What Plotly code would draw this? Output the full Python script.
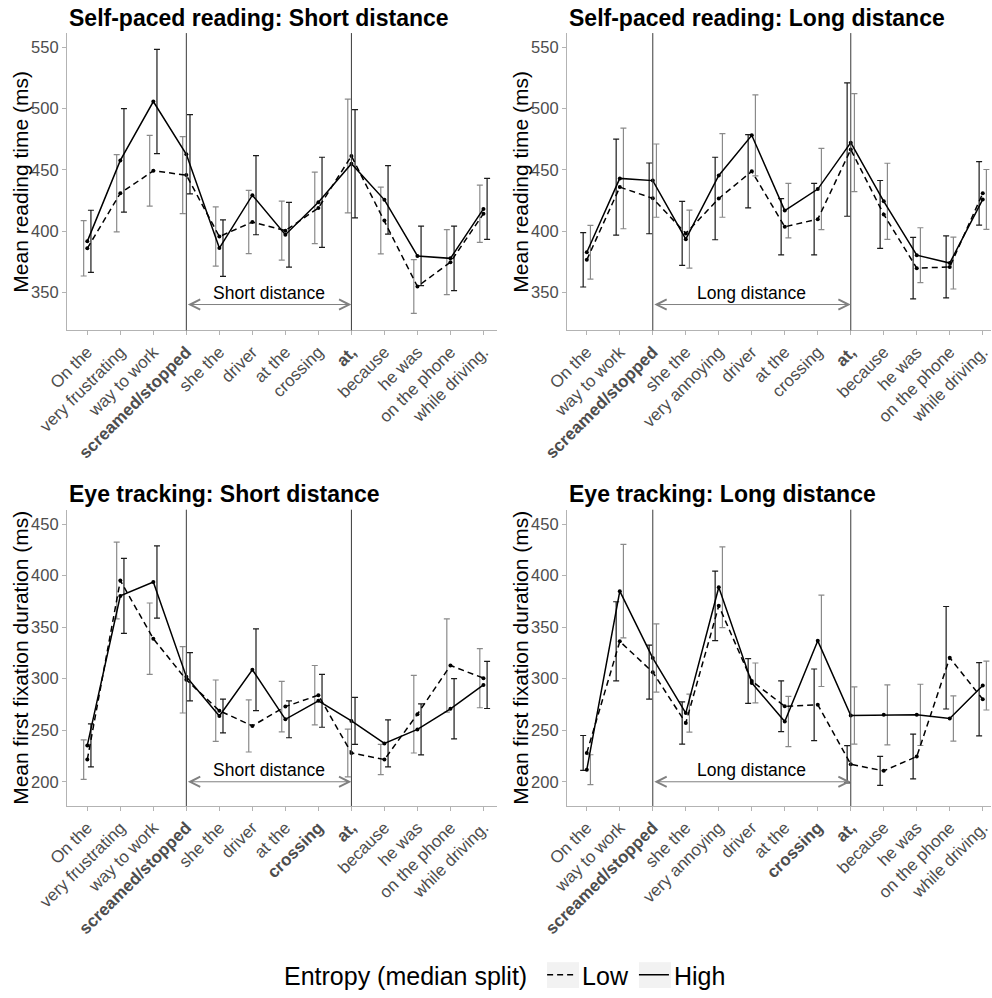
import numpy as np
import plotly.graph_objects as go

# ---------------- data ----------------
labels_short = ["On the", "very frustrating", "way to work", "screamed/stopped", "she the", "driver",
                "at the", "crossing", "at,", "because", "he was", "on the phone", "while driving."]
labels_long = ["On the", "way to work", "screamed/stopped", "she the", "very annoying", "driver",
               "at the", "crossing", "at,", "because", "he was", "on the phone", "while driving."]

bold_spr = ["screamed/stopped", "at,"]
bold_et = ["screamed/stopped", "crossing", "at,"]

# Self-paced reading: short distance
spr_short_low = [385.9, 430.9, 449.2, 445.7, 395.5, 407.4, 400.3, 418.9, 461.3, 408.6, 354.7, 374.6, 414.2]
spr_short_low_err = [22.6, 31.5, 28.9, 31.4, 24.2, 25.8, 24.1, 29.2, 46.5, 27.3, 22.0, 26.5, 23.4]
spr_short_high = [391.6, 457.7, 505.8, 462.7, 386.1, 429.3, 397.0, 423.5, 455.0, 425.5, 379.7, 377.7, 418.1]
spr_short_high_err = [25.4, 42.3, 42.6, 32.4, 23.1, 32.3, 26.5, 36.8, 44.2, 28.0, 24.3, 26.4, 24.9]

# Self-paced reading: long distance
spr_long_low = [376.5, 435.9, 426.7, 398.1, 426.6, 448.8, 403.5, 409.7, 466.6, 413.6, 369.7, 370.7, 430.8]
spr_long_low_err = [22.2, 39.2, 28.9, 26.2, 33.7, 29.9, 23.0, 29.2, 54.5, 27.7, 25.1, 25.3, 25.9]
spr_long_high = [382.7, 443.0, 441.2, 393.4, 445.4, 478.2, 416.7, 434.3, 472.2, 424.3, 380.3, 373.9, 425.8]
spr_long_high_err = [21.9, 41.1, 29.9, 23.7, 34.1, 33.1, 22.2, 33.2, 40.0, 31.1, 22.4, 21.2, 24.5]

# Eye tracking: short distance
et_short_low = [221.5, 395.2, 338.8, 298.9, 268.9, 254.2, 272.9, 284.0, 227.9, 221.6, 265.6, 312.8, 300.5]
et_short_low_err = [19.2, 37.2, 34.6, 32.2, 29.8, 25.3, 24.5, 28.8, 23.1, 14.6, 37.7, 45.2, 28.7]
et_short_high = [235.3, 380.3, 393.8, 301.9, 263.8, 308.7, 260.6, 278.5, 259.0, 237.2, 250.8, 270.8, 293.9]
et_short_high_err = [20.8, 36.4, 35.1, 23.4, 16.3, 39.7, 17.9, 25.6, 22.8, 22.8, 24.8, 29.2, 22.8]

# Eye tracking: long distance
et_long_low = [228.0, 336.2, 306.3, 257.0, 370.7, 297.7, 273.2, 274.7, 217.0, 210.6, 224.5, 320.3, 280.0]
et_long_low_err = [16.9, 38.4, 26.2, 20.5, 33.7, 21.7, 24.6, 34.7, 18.1, 14.0, 21.7, 49.7, 35.5]
et_long_high = [211.7, 384.9, 320.0, 266.6, 388.7, 295.9, 258.4, 336.7, 264.3, 264.9, 264.9, 261.4, 293.3]
et_long_high_err = [14.5, 45.3, 33.1, 18.5, 39.2, 19.3, 24.4, 44.3, 27.7, 29.1, 29.7, 22.0, 23.7]

titles = ["Self-paced reading: Short distance", "Self-paced reading: Long distance",
          "Eye tracking: Short distance", "Eye tracking: Long distance"]
region_labels = ["Short distance", "Long distance", "Short distance", "Long distance"]
region_start = ["screamed/stopped", "screamed/stopped", "screamed/stopped", "screamed/stopped"]
region_end = ["at,", "at,", "at,", "at,"]
arrow_level = [340, 340, 200, 200]
y_titles = ["Mean reading time (ms)", "Mean reading time (ms)",
            "Mean first fixation duration (ms)", "Mean first fixation duration (ms)"]
y_ticks_top = [350, 400, 450, 500, 550]
y_ticks_bottom = [200, 250, 300, 350, 400, 450]
legend_title = "Entropy (median split)"
legend_names = ["Low", "High"]

# ---------------- styling ----------------
W, H = 992, 998
GRAY = "#8a8a8a"
BLACK = "#1a1a1a"
TICKCOL = "#4d4d4d"
AXCOL = "#b3b3b3"
FONT = "Liberation Sans, Arial, sans-serif"
DODGE = 0.11
DASH = "6px,4px"

panels = [
    dict(labels=labels_short, bold=bold_spr, low=spr_short_low, lowe=spr_short_low_err,
         high=spr_short_high, highe=spr_short_high_err, lowc=GRAY, highc=BLACK,
         xpx=(67, 497), xr=(-0.615, 12.41), ypx=(33.3, 332.7), yr=(318.9, 561.7), yt=y_ticks_top),
    dict(labels=labels_long, bold=bold_spr, low=spr_long_low, lowe=spr_long_low_err,
         high=spr_long_high, highe=spr_long_high_err, lowc=BLACK, highc=GRAY,
         xpx=(567, 991), xr=(-0.6, 12.25), ypx=(33.3, 332.7), yr=(318.9, 561.7), yt=y_ticks_top),
    dict(labels=labels_short, bold=bold_et, low=et_short_low, lowe=et_short_low_err,
         high=et_short_high, highe=et_short_high_err, lowc=GRAY, highc=BLACK,
         xpx=(67, 497), xr=(-0.615, 12.41), ypx=(513.3, 811.7), yr=(176.5, 463.9), yt=y_ticks_bottom),
    dict(labels=labels_long, bold=bold_et, low=et_long_low, lowe=et_long_low_err,
         high=et_long_high, highe=et_long_high_err, lowc=BLACK, highc=GRAY,
         xpx=(567, 991), xr=(-0.6, 12.25), ypx=(513.3, 811.7), yr=(176.5, 463.9), yt=y_ticks_bottom),
]

fig = go.Figure()
annotations = []
shapes = []

for k, p in enumerate(panels):
    n = k + 1
    xa = "x" if n == 1 else f"x{n}"
    ya = "y" if n == 1 else f"y{n}"
    idx = np.arange(len(p["labels"]))

    # error bars (dodged)
    for vals, errs, col, off in [(p["low"], p["lowe"], p["lowc"], -DODGE),
                                 (p["high"], p["highe"], p["highc"], DODGE)]:
        fig.add_trace(go.Scatter(
            x=idx + off, y=vals, mode="markers", marker=dict(size=0.1, opacity=0),
            error_y=dict(type="data", array=errs, visible=True, color=col, thickness=1.2, width=3),
            xaxis=xa, yaxis=ya, showlegend=False, hoverinfo="skip"))
    # lines
    fig.add_trace(go.Scatter(
        x=idx, y=p["low"], mode="lines+markers", name=legend_names[0],
        line=dict(color="black", width=1.5, dash=DASH), marker=dict(size=4, color="black"),
        xaxis=xa, yaxis=ya, showlegend=False))
    fig.add_trace(go.Scatter(
        x=idx, y=p["high"], mode="lines+markers", name=legend_names[1],
        line=dict(color="black", width=1.5), marker=dict(size=4, color="black"),
        xaxis=xa, yaxis=ya, showlegend=False))

    ticktext = [f"<b>{l}</b>" if l in p["bold"] else l for l in p["labels"]]
    xdom = [p["xpx"][0] / W, p["xpx"][1] / W]
    ydom = [1 - p["ypx"][1] / H, 1 - p["ypx"][0] / H]
    fig.update_layout(**{
        ("xaxis" if n == 1 else f"xaxis{n}"): dict(
            domain=xdom, range=list(p["xr"]), anchor=ya, tickmode="array", tickvals=idx,
            ticktext=ticktext, tickangle=-45, tickfont=dict(size=17, color=TICKCOL, family=FONT),
            showline=True, linecolor=AXCOL, linewidth=1.2, ticks="outside", ticklen=4,
            tickcolor=AXCOL, showgrid=False, zeroline=False, automargin=False),
        ("yaxis" if n == 1 else f"yaxis{n}"): dict(
            domain=ydom, range=list(p["yr"]), anchor=xa, tickmode="array", tickvals=p["yt"],
            tickfont=dict(size=16.5, color=TICKCOL, family=FONT),
            showline=True, linecolor=AXCOL, linewidth=1.2, ticks="outside", ticklen=4,
            tickcolor=AXCOL, showgrid=False, zeroline=False, automargin=False),
    })

    # y-axis title
    annotations.append(dict(x=(p["xpx"][0] - 46) / W, y=(ydom[0] + ydom[1]) / 2, xref="paper", yref="paper",
                            text=y_titles[k], textangle=-90, showarrow=False, xanchor="center",
                            yanchor="middle", font=dict(size=21, color="black", family=FONT)))

    # region boundary lines
    xs = p["labels"].index(region_start[k])
    xe = p["labels"].index(region_end[k])
    for xv in (xs, xe):
        shapes.append(dict(type="line", xref=xa, yref=f"{ya} domain", x0=xv, x1=xv, y0=0, y1=1,
                           line=dict(color="#3a3a3a", width=1)))
    # double arrow
    annotations.append(dict(x=xe, y=arrow_level[k], ax=xs, ay=arrow_level[k], xref=xa, yref=ya,
                            axref=xa, ayref=ya, text="", showarrow=True, arrowhead=5, startarrowhead=5,
                            arrowside="end+start", arrowsize=2, startarrowsize=2, arrowwidth=1,
                            arrowcolor="#808080", standoff=0, startstandoff=0))
    annotations.append(dict(x=(xs + xe) / 2, y=arrow_level[k], xref=xa, yref=ya, text=region_labels[k],
                            showarrow=False, yshift=12, font=dict(size=17.5, color="black", family=FONT)))
    # panel title
    annotations.append(dict(x=p["xpx"][0] / W, y=1 - (p["ypx"][0] - 15.5) / H, xref="paper", yref="paper",
                            text=f"<b>{titles[k]}</b>", showarrow=False, xanchor="left", yanchor="middle",
                            font=dict(size=23, color="black", family=FONT)))

# light key backgrounds of the legend
for x0 in (547, 639):
    shapes.append(dict(type="rect", xref="paper", yref="paper", x0=x0 / W, x1=(x0 + 32) / W,
                       y0=1 - 995 / H, y1=1 - 969 / H, fillcolor="#f2f2f2", line=dict(width=0),
                       layer="below"))

# legend-only traces
fig.add_trace(go.Scatter(x=[None], y=[None], mode="lines", name=legend_names[0],
                         line=dict(color="black", width=1.5, dash=DASH), xaxis="x", yaxis="y"))
fig.add_trace(go.Scatter(x=[None], y=[None], mode="lines", name=legend_names[1],
                         line=dict(color="black", width=1.5), xaxis="x", yaxis="y"))

fig.update_layout(
    width=W, height=H, margin=dict(l=0, r=0, t=0, b=0),
    paper_bgcolor="white", plot_bgcolor="white",
    font=dict(family=FONT),
    shapes=shapes, annotations=annotations,
    legend=dict(orientation="h", x=0.5106, xanchor="center", y=1 - 982 / H, yanchor="middle",
                title=dict(text=legend_title + " ", font=dict(size=25, color="black", family=FONT)),
                font=dict(size=25, color="black", family=FONT), bgcolor="rgba(0,0,0,0)",
                itemwidth=30),
)

fig.write_html("out.html")
